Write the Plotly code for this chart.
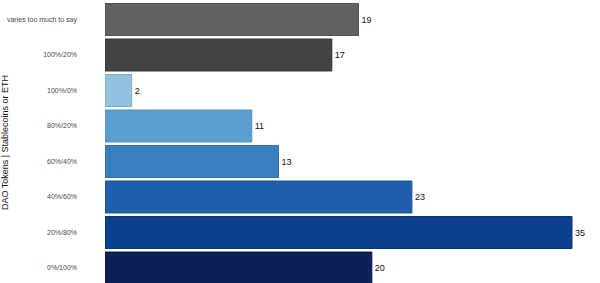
import plotly.graph_objects as go

categories = ["0%/100%", "20%/80%", "40%/60%", "60%/40%", "80%/20%", "100%/0%", "100%/20%", "varies too much to say"]
values = [20, 35, 23, 13, 11, 2, 17, 19]
colors = ["#0c1f56", "#0c3f8e", "#1e5eaa", "#3a7fbf", "#5a9fd0", "#93c1e0", "#434343", "#616161"]
outlines = ["#0a1a48", "#0a3578", "#1a5196", "#326fa8", "#4f8dba", "#7fadcc", "#333333", "#505050"]

fig = go.Figure(go.Bar(
    y=categories, x=values, orientation="h",
    marker=dict(color=colors, line=dict(color=outlines, width=1)),
    text=[str(v) for v in values], textposition="outside",
    textfont=dict(size=9, color="#111111", family="Liberation Sans, Arial"),
    cliponaxis=False,
))
fig.update_layout(
    width=600, height=283,
    margin=dict(l=105, r=8, t=2, b=0),
    plot_bgcolor="white", paper_bgcolor="white",
    bargap=0.1, showlegend=False,
    font=dict(family="Liberation Sans, Arial"),
)
fig.update_xaxes(range=[0, 36.5], visible=False, showgrid=False)
fig.update_yaxes(
    range=[-0.4225, 7.493], showgrid=False, zeroline=False, automargin=False,
    tickfont=dict(size=7, color="#4a4a4a"), ticks="", ticklabelstandoff=27,
    title=dict(text="DAO Tokens | Stablecoins or ETH", font=dict(size=9, color="#111111"), standoff=8),
    categoryorder="array", categoryarray=categories,
)
fig.write_html("out.html")
